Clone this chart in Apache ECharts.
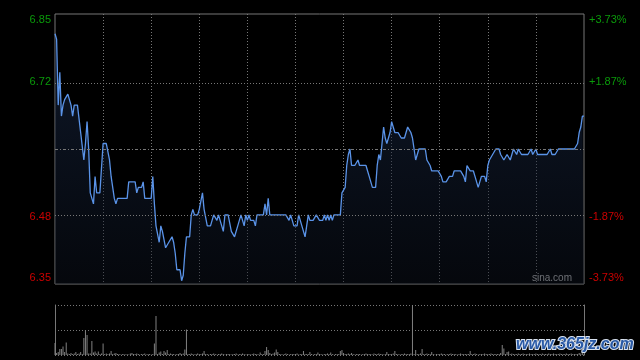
<!DOCTYPE html>
<html>
<head>
<meta charset="utf-8">
<script src="https://cdn.jsdelivr.net/npm/echarts@6/dist/echarts.min.js"></script>
<style>html,body{margin:0;padding:0;background:#000;}#c{width:640px;height:360px;}</style>
</head>
<body>
<div id="c"></div>
<script>
// ---- data ----
var prevClose = 6.60;
var rangeAbs = 0.246; // half range of price axis (3.73%)
var leftLabels = ['6.35', '6.48', '', '6.72', '6.85'];
var rightLabels = ['-3.73%', '-1.87%', '', '+1.87%', '+3.73%'];

var prices = [
6.81,6.80,6.68,6.74,6.66,6.68,6.69,6.69,6.70,6.70,
6.68,6.66,6.68,6.68,6.68,6.68,6.63,6.63,6.58,6.61,
6.65,6.60,6.52,6.52,6.50,6.55,6.52,6.52,6.52,6.52,
6.61,6.61,6.61,6.61,6.58,6.55,6.55,6.51,6.50,6.51,
6.51,6.51,6.51,6.51,6.51,6.51,6.54,6.54,6.54,6.54,
6.54,6.52,6.53,6.53,6.53,6.54,6.51,6.51,6.51,6.51,
6.51,6.55,6.50,6.46,6.46,6.43,6.46,6.45,6.45,6.42,
6.42,6.43,6.43,6.44,6.43,6.41,6.38,6.38,6.38,6.36,
6.37,6.41,6.44,6.44,6.44,6.48,6.49,6.48,6.48,6.48,
6.49,6.49,6.52,6.49,6.49,6.46,6.46,6.46,6.47,6.48,
6.48,6.47,6.48,6.47,6.46,6.45,6.48,6.48,6.48,6.48,
6.45,6.45,6.44,6.44,6.46,6.46,6.48,6.48,6.46,6.48,
6.47,6.48,6.47,6.47,6.47,6.46,6.48,6.48,6.48,6.48,
6.48,6.50,6.48,6.51,6.48,6.48,6.48,6.48,6.48,6.48,
6.48,6.48,6.48,6.48,6.48,6.48,6.47,6.48,6.48,6.46,
6.46,6.46,6.48,6.47,6.47,6.45,6.44,6.46,6.48,6.47,
6.47,6.47,6.47,6.48,6.48,6.47,6.47,6.47,6.48,6.47,
6.48,6.47,6.48,6.47,6.48,6.48,6.48,6.48,6.48,6.52,
6.52,6.53,6.57,6.59,6.60,6.57,6.57,6.57,6.57,6.58,
6.57,6.57,6.57,6.57,6.57,6.56,6.55,6.54,6.53,6.53,
6.53,6.57,6.59,6.58,6.61,6.64,6.62,6.61,6.61,6.63,
6.65,6.65,6.63,6.63,6.63,6.63,6.62,6.62,6.62,6.63,
6.64,6.64,6.63,6.62,6.62,6.58,6.59,6.60,6.60,6.60,
6.60,6.60,6.58,6.58,6.57,6.56,6.56,6.56,6.56,6.56,
6.56,6.55,6.54,6.54,6.54,6.54,6.55,6.55,6.55,6.56,
6.56,6.56,6.56,6.56,6.56,6.55,6.54,6.57,6.57,6.56,
6.56,6.56,6.55,6.55,6.53,6.53,6.55,6.55,6.55,6.54,
6.57,6.58,6.58,6.59,6.59,6.60,6.60,6.60,6.59,6.59,
6.58,6.58,6.59,6.59,6.58,6.59,6.60,6.60,6.59,6.60,
6.60,6.59,6.59,6.59,6.59,6.59,6.59,6.60,6.59,6.59,
6.60,6.59,6.59,6.59,6.59,6.59,6.59,6.59,6.59,6.60,
6.59,6.59,6.59,6.59,6.60,6.60,6.60,6.60,6.60,6.60,
6.60,6.60,6.60,6.60,6.60,6.60,6.61,6.63,6.64,6.66,
6.66
];

var volumes = [
24,4,6,12,12,17,6,25,3,2,
4,2,3,6,2,3,6,2,34,50,
40,3,3,28,5,7,3,7,2,3,
23,2,3,2,3,8,2,3,4,2,
2,1,2,2,1,2,1,3,4,2,
2,3,2,1,2,2,3,1,2,2,
1,2,23,78,2,5,7,2,8,5,
10,2,3,2,2,1,2,2,4,2,
3,11,51,2,2,3,2,1,2,3,
2,2,3,8,2,2,1,2,2,3,
2,1,2,2,3,2,1,2,2,2,
1,2,2,3,1,2,2,3,2,1,
2,2,1,2,3,2,2,1,5,2,
2,8,16,10,4,2,3,5,11,6,
2,2,1,2,3,2,1,2,2,2,
2,3,1,2,2,8,2,2,2,6,
2,1,2,2,5,2,2,1,2,2,
3,2,5,2,1,2,2,2,8,10,
4,2,2,3,2,4,2,1,2,2,
2,1,2,2,3,2,2,2,1,3,
2,2,3,2,2,1,2,6,2,2,
2,3,8,2,2,1,2,2,3,2,
2,2,3,100,2,10,2,2,3,12,
2,2,3,2,2,6,2,1,2,2,
2,3,2,2,1,2,2,3,2,2,
2,1,2,3,2,2,2,2,2,8,
2,2,3,2,1,2,2,2,3,2,
2,2,3,2,2,2,2,2,4,20,
13,2,6,7,2,3,2,2,2,3,
2,2,3,2,2,2,3,2,2,2,
3,2,2,2,3,2,2,2,3,2,
2,3,2,2,2,3,2,2,2,3,
2,2,3,2,2,2,2,4,3,5,
3
];

// minute categories (HK session: 09:30-12:00, 13:01-16:00)
function pad(n){return (n<10?'0':'')+n;}
var times = [];
(function(){
  var m;
  for (m = 9*60+30; m <= 12*60; m++) times.push(pad(Math.floor(m/60))+':'+pad(m%60));
  for (m = 13*60+1; m <= 16*60; m++) times.push(pad(Math.floor(m/60))+':'+pad(m%60));
})();

// ---- chart ----
var GREEN = '#0a9a0a', RED = '#cc0000', GRIDC = '#777777';
var step = rangeAbs / 2;
var diffs = prices.map(function(p){ return +(p - prevClose).toFixed(4); });

function tickIndex(v){ return Math.round((v + rangeAbs) / step); }
function fmt(labels){
  return function(v){
    var i = tickIndex(v);
    var t = labels[i] || '';
    if (!t) return '';
    if (i === 4) return '{gt|' + t + '}';
    if (i === 0) return '{rb|' + t + '}';
    return (i > 2 ? '{g|' : '{r|') + t + '}';
  };
}
var rich = {
  g:  {color: GREEN, fontSize: 11, fontFamily: 'Liberation Sans'},
  r:  {color: RED,   fontSize: 11, fontFamily: 'Liberation Sans'},
  gt: {color: GREEN, fontSize: 11, fontFamily: 'Liberation Sans', padding: [12,0,0,0]},
  rb: {color: RED,   fontSize: 11, fontFamily: 'Liberation Sans', padding: [0,0,12,0]}
};

var chart = echarts.init(document.getElementById('c'), null, {renderer: 'canvas'});
chart.setOption({
  backgroundColor: '#000',
  animation: false,
  grid: [
    {left: 55, right: 56, top: 14, height: 270, show: true, borderColor: GRIDC, borderWidth: 1, backgroundColor: 'transparent'},
    {left: 55, right: 56, top: 305, height: 50}
  ],
  xAxis: [
    {type: 'category', gridIndex: 0, data: times, boundaryGap: false,
     axisLine: {show: false}, axisTick: {show: false}, axisLabel: {show: false},
     splitLine: {show: true, interval: function(i){ return i % 30 === 0 && i > 0 && i < times.length - 1; },
                 lineStyle: {color: GRIDC, type: [1,2], width: 1}}},
    {type: 'category', gridIndex: 1, data: times, boundaryGap: false,
     axisLine: {show: false}, axisTick: {show: false}, axisLabel: {show: false}, splitLine: {show: false}}
  ],
  yAxis: [
    {type: 'value', gridIndex: 0, position: 'left', min: -rangeAbs, max: rangeAbs, interval: step,
     axisLine: {show: false}, axisTick: {show: false}, splitLine: {show: false},
     axisLabel: {margin: 4, formatter: fmt(leftLabels), rich: rich}},
    {type: 'value', gridIndex: 0, position: 'right', min: -rangeAbs, max: rangeAbs, interval: step,
     axisLine: {show: false}, axisTick: {show: false}, splitLine: {show: false},
     axisLabel: {margin: 5, formatter: fmt(rightLabels), rich: rich}},
    {type: 'value', gridIndex: 1, position: 'left', min: 0, max: 100, interval: 50,
     axisLine: {show: true, lineStyle: {color: GRIDC}}, axisTick: {show: false}, axisLabel: {show: false},
     splitLine: {show: true, lineStyle: {color: GRIDC, type: [1,2]}}},
    {type: 'value', gridIndex: 1, position: 'right', min: 0, max: 100, interval: 50,
     axisLine: {show: true, lineStyle: {color: GRIDC}}, axisTick: {show: false}, axisLabel: {show: false},
     splitLine: {show: false}}
  ],
  series: [
    {type: 'line', xAxisIndex: 0, yAxisIndex: 0, data: diffs, symbol: 'none',
     lineStyle: {color: '#5a93e8', width: 1.3},
     areaStyle: {origin: 'start', color: new echarts.graphic.LinearGradient(0,0,0,1,[
        {offset: 0, color: 'rgba(28,46,80,0.75)'}, {offset: 1, color: 'rgba(12,18,30,0.6)'}])},
     markLine: {silent: true, symbol: 'none', label: {show: false},
       data: [
         {yAxis: -step, lineStyle: {color: GRIDC, type: [1,2], width: 1}},
         {yAxis: step, lineStyle: {color: GRIDC, type: [1,2], width: 1}},
         {yAxis: 0, lineStyle: {color: GRIDC, type: [3,2,1,2], width: 1}}
       ]},
     z: 3},
    {type: 'bar', xAxisIndex: 1, yAxisIndex: 2, data: volumes, barWidth: 1,
     itemStyle: {color: '#808080'}}
  ],
  graphic: [
    {type: 'text', left: 532, top: 273, silent: true,
     style: {text: 'sina.com', fill: '#b0b0b0', font: '10px "Liberation Sans"'}},
    {type: 'text', left: 515, top: 336, silent: true, z: 100,
     style: {text: 'www.365jz.com', fill: '#2a5aa6', stroke: '#d8e2f0', lineWidth: 2,
             font: 'italic bold 16px "Liberation Sans"'}}
  ]
});
</script>
</body>
</html>
